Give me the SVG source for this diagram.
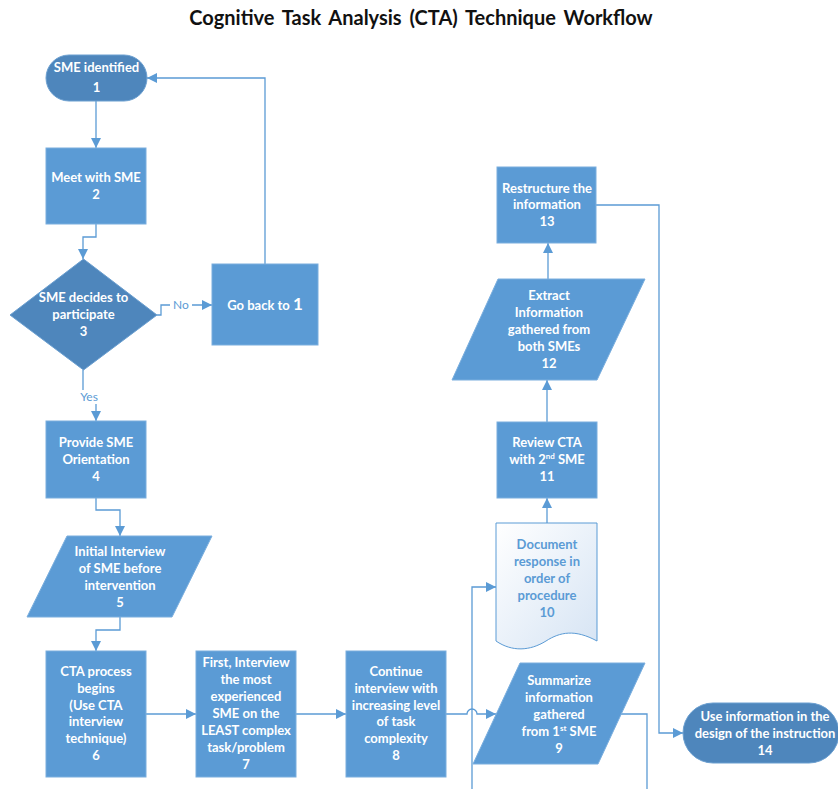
<svg xmlns="http://www.w3.org/2000/svg" width="838" height="789" viewBox="0 0 838 789">
<style>
.n{fill:#5b9bd5;stroke:#7aaede;stroke-width:1}
.d{fill:#4e86bc;stroke:#6b9fd0;stroke-width:1}
.t{font-family:Lato,"Liberation Sans",sans-serif;font-weight:bold;font-size:13px;fill:#ffffff;text-anchor:middle}
.tb{font-family:Lato,"Liberation Sans",sans-serif;font-weight:bold;font-size:13px;fill:#5b9bd5;text-anchor:middle}
.c{fill:none;stroke:#5b9bd5;stroke-width:1.3}
.lbl{font-family:Lato,"Liberation Sans",sans-serif;font-size:12px;fill:#5b9bd5;text-anchor:middle}
.title{font-family:Lato,"Liberation Sans",sans-serif;font-weight:bold;font-size:20px;fill:#111111;text-anchor:middle;word-spacing:3px}
</style>
<defs>
<marker id="ah" markerUnits="userSpaceOnUse" markerWidth="10" markerHeight="10" refX="10" refY="5" orient="auto">
<path d="M0,0 L10,5 L0,10 z" fill="#5b9bd5"/>
</marker>
<linearGradient id="docg" x1="0" y1="0" x2="1" y2="1">
<stop offset="0" stop-color="#ffffff"/>
<stop offset="1" stop-color="#d6e4f4"/>
</linearGradient>
</defs>

<text class="title" x="421" y="25">Cognitive Task Analysis (CTA) Technique Workflow</text>

<g id="connectors">
<path class="c" d="M96,101 V148" marker-end="url(#ah)"/>
<path class="c" d="M96,224 V237 H83 V259" marker-end="url(#ah)"/>
<path class="c" d="M157,315 H161 V305 H212" marker-end="url(#ah)"/>
<path class="c" d="M265,264 V78 H147" marker-end="url(#ah)"/>
<path class="c" d="M83,370 V398 H96 V421" marker-end="url(#ah)"/>
<path class="c" d="M96,498 V510 H120 V536" marker-end="url(#ah)"/>
<path class="c" d="M120,617 V630 H96 V651" marker-end="url(#ah)"/>
<path class="c" d="M146,714 H196" marker-end="url(#ah)"/>
<path class="c" d="M296,714 H346" marker-end="url(#ah)"/>
<path class="c" d="M446,714 H467 A5,5 0 0 1 477,714 H496" marker-end="url(#ah)"/>
<path class="c" d="M621,714 H647 V800 H472 V587 H496" marker-end="url(#ah)"/>
<path class="c" d="M547,523 V498" marker-end="url(#ah)"/>
<path class="c" d="M547,422 V380" marker-end="url(#ah)"/>
<path class="c" d="M548,279 V243" marker-end="url(#ah)"/>
<path class="c" d="M596,205 H659 V733 H683" marker-end="url(#ah)"/>
<rect x="170" y="297" width="22" height="14" fill="#ffffff"/>
<text class="lbl" x="181" y="309">No</text>
<rect x="77" y="390" width="24" height="14" fill="#ffffff"/>
<text class="lbl" x="89" y="401">Yes</text>
</g>

<g id="node1">
<rect class="d" x="46" y="55" width="101" height="46" rx="23" ry="23"/>
<text class="t" x="96.5" y="72">SME identified</text>
<text class="t" x="96.5" y="92" font-size="14">1</text>
</g>

<g id="node2">
<rect class="n" x="46" y="148" width="100" height="76"/>
<text class="t" x="96" y="182">Meet with SME</text>
<text class="t" x="96" y="199">2</text>
</g>

<g id="node3">
<polygon class="d" points="83.5,259 157,315 83.5,370 10,315"/>
<text class="t" x="83.5" y="302">SME decides to</text>
<text class="t" x="83.5" y="319">participate</text>
<text class="t" x="83.5" y="336">3</text>
</g>

<g id="goback">
<rect class="n" x="212" y="264" width="106" height="81"/>
<text class="t" x="265" y="310">Go back to <tspan font-size="17">1</tspan></text>
</g>

<g id="node4">
<rect class="n" x="46" y="421" width="100" height="77"/>
<text class="t" x="96" y="447">Provide SME</text>
<text class="t" x="96" y="464">Orientation</text>
<text class="t" x="96" y="481">4</text>
</g>

<g id="node5">
<polygon class="n" points="67,536 212,536 172,617 27,617"/>
<text class="t" x="120" y="556">Initial Interview</text>
<text class="t" x="120" y="573">of SME before</text>
<text class="t" x="120" y="590">intervention</text>
<text class="t" x="120" y="607">5</text>
</g>

<g id="node6">
<rect class="n" x="46" y="651" width="100" height="126"/>
<text class="t" x="96" y="676">CTA process</text>
<text class="t" x="96" y="693">begins</text>
<text class="t" x="96" y="710">(Use CTA</text>
<text class="t" x="96" y="726">interview</text>
<text class="t" x="96" y="743">technique)</text>
<text class="t" x="96" y="760">6</text>
</g>

<g id="node7">
<rect class="n" x="196" y="651" width="100" height="126"/>
<text class="t" x="246" y="667">First, Interview</text>
<text class="t" x="246" y="684">the most</text>
<text class="t" x="246" y="701">experienced</text>
<text class="t" x="246" y="718">SME on the</text>
<text class="t" x="246" y="735">LEAST complex</text>
<text class="t" x="246" y="752">task/problem</text>
<text class="t" x="246" y="769">7</text>
</g>

<g id="node8">
<rect class="n" x="346" y="651" width="100" height="126"/>
<text class="t" x="396" y="676">Continue</text>
<text class="t" x="396" y="693">interview with</text>
<text class="t" x="396" y="710">increasing level</text>
<text class="t" x="396" y="726">of task</text>
<text class="t" x="396" y="743">complexity</text>
<text class="t" x="396" y="760">8</text>
</g>

<g id="node9">
<polygon class="n" points="520,663 645,663 598,764 473,764"/>
<text class="t" x="559" y="685">Summarize</text>
<text class="t" x="559" y="702">information</text>
<text class="t" x="559" y="719">gathered</text>
<text class="t" x="559" y="736">from 1<tspan font-size="8" dy="-5">st</tspan><tspan dy="5"> SME</tspan></text>
<text class="t" x="559" y="753">9</text>
</g>

<g id="node10">
<path d="M496,523 H597 V641 C575,629 560,632 546,641 C530,651 512,652 496,641 Z" fill="url(#docg)" stroke="#5b9bd5" stroke-width="1"/>
<text class="tb" x="547" y="549">Document</text>
<text class="tb" x="547" y="566">response in</text>
<text class="tb" x="547" y="583">order of</text>
<text class="tb" x="547" y="600">procedure</text>
<text class="tb" x="547" y="617">10</text>
</g>

<g id="node11">
<rect class="n" x="497" y="422" width="100" height="76"/>
<text class="t" x="547" y="447">Review CTA</text>
<text class="t" x="547" y="464">with 2<tspan font-size="8" dy="-5">nd</tspan><tspan dy="5">  SME</tspan></text>
<text class="t" x="547" y="481">11</text>
</g>

<g id="node12">
<polygon class="n" points="498,279 645,279 597,380 452,380"/>
<text class="t" x="549" y="300">Extract</text>
<text class="t" x="549" y="317">Information</text>
<text class="t" x="549" y="334">gathered from</text>
<text class="t" x="549" y="351">both SMEs</text>
<text class="t" x="549" y="368">12</text>
</g>

<g id="node13">
<rect class="n" x="497" y="167" width="99" height="76"/>
<text class="t" x="547" y="193">Restructure the</text>
<text class="t" x="547" y="209">information</text>
<text class="t" x="547" y="226">13</text>
</g>

<g id="node14">
<rect class="d" x="683" y="703" width="156" height="60" rx="30" ry="30"/>
<text class="t" x="765" y="721">Use information  in the</text>
<text class="t" x="765" y="738">design of the instruction</text>
<text class="t" x="765" y="755">14</text>
</g>
</svg>
